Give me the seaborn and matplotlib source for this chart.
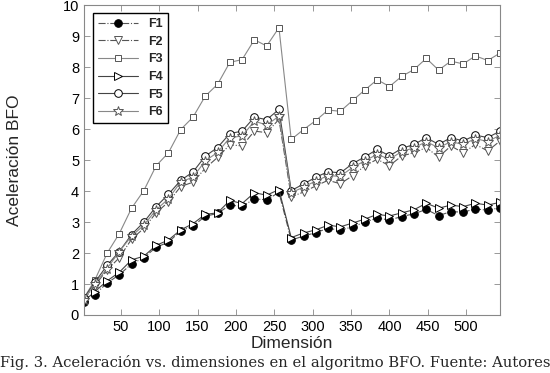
import pandas as pd
import seaborn as sns
import matplotlib.pyplot as plt

# Problem dimensions (x axis)
dims = [2] + list(range(16, 545, 16))

# Acceleration values
f1 = [0.41, 0.66, 1.03, 1.30, 1.65, 1.85, 2.19, 2.35, 2.72, 2.87, 3.19, 3.28, 3.55, 3.51, 3.75, 3.72, 3.96,
      2.42, 2.55, 2.66, 2.80, 2.74, 2.85, 3.00, 3.13, 3.07, 3.18, 3.27, 3.41, 3.21, 3.34, 3.32, 3.43, 3.38, 3.47]
f2 = [0.50, 0.95, 1.45, 1.85, 2.45, 2.80, 3.30, 3.65, 4.15, 4.29, 4.74, 5.09, 5.50, 5.46, 5.94, 5.89, 6.32,
      3.82, 3.97, 4.17, 4.35, 4.24, 4.50, 4.82, 5.03, 4.82, 5.14, 5.24, 5.41, 5.10, 5.46, 5.24, 5.51, 5.30, 5.62]
f3 = [0.55, 1.12, 1.99, 2.63, 3.45, 4.02, 4.82, 5.24, 5.99, 6.39, 7.07, 7.45, 8.16, 8.25, 8.89, 8.69, 9.28,
      5.67, 5.99, 6.28, 6.62, 6.58, 6.93, 7.27, 7.60, 7.38, 7.71, 7.93, 8.29, 7.91, 8.20, 8.11, 8.37, 8.22, 8.46]
f4 = [0.45, 0.75, 1.10, 1.38, 1.78, 1.90, 2.25, 2.42, 2.75, 2.95, 3.25, 3.30, 3.70, 3.60, 3.95, 3.87, 4.05,
      2.50, 2.65, 2.75, 2.90, 2.85, 2.97, 3.10, 3.25, 3.20, 3.30, 3.40, 3.61, 3.45, 3.55, 3.50, 3.61, 3.55, 3.64]
f5 = [0.55, 1.05, 1.60, 2.05, 2.60, 3.00, 3.50, 3.90, 4.35, 4.62, 5.13, 5.41, 5.86, 5.94, 6.39, 6.31, 6.64,
      4.02, 4.23, 4.45, 4.63, 4.59, 4.89, 5.11, 5.35, 5.14, 5.38, 5.51, 5.73, 5.51, 5.73, 5.62, 5.81, 5.73, 5.94]
f6 = [0.50, 1.00, 1.50, 2.05, 2.55, 2.90, 3.40, 3.75, 4.30, 4.45, 4.98, 5.25, 5.73, 5.78, 6.26, 6.14, 6.42,
      3.95, 4.13, 4.33, 4.50, 4.48, 4.77, 4.98, 5.19, 5.03, 5.28, 5.40, 5.60, 5.40, 5.60, 5.51, 5.70, 5.60, 5.81]

series = {"F1": f1, "F2": f2, "F3": f3, "F4": f4, "F5": f5, "F6": f6}

# line style, marker, line colour, marker face colour, marker size
styles = {
    "F1": ("-.", "o", "#555555", "black", 5.5),
    "F2": ("-.", "v", "#555555", "white", 5.5),
    "F3": ("-", "s", "#888888", "white", 5),
    "F4": ("-", ">", "#444444", "white", 5.5),
    "F5": ("-", "o", "#444444", "white", 5.5),
    "F6": ("-", "*", "#888888", "white", 7),
}


def main():
    df = pd.DataFrame({"Dimension": dims, **series})
    df = df.melt(id_vars="Dimension", var_name="Funcion", value_name="Aceleracion")

    sns.set_theme(style="ticks")
    plt.rcParams["font.family"] = ["Liberation Sans", "DejaVu Sans"]

    fig = plt.figure(figsize=(5.5, 3.73), dpi=100)
    ax = fig.add_axes([0.1527, 0.1555, 0.7564, 0.830])

    for name in series:
        ls, mk, col, face, ms = styles[name]
        edge = "black" if name in ("F1", "F4", "F5") else "#555555"
        sns.lineplot(data=df[df["Funcion"] == name], x="Dimension", y="Aceleracion",
                     ax=ax, color=col, linestyle=ls, linewidth=0.8, marker=mk,
                     markersize=ms, markerfacecolor=face, markeredgecolor=edge,
                     markeredgewidth=0.7, label=name, legend=False)

    ax.set_xlim(2, 544)
    ax.set_ylim(0, 10)
    ax.set_xticks(range(50, 501, 50))
    ax.set_yticks(range(0, 11))
    ax.tick_params(direction="in", top=True, right=True, length=4, width=0.6,
                   color="#888888", labelsize=10.5, labelcolor="black")
    for sp in ax.spines.values():
        sp.set_color("#888888")
        sp.set_linewidth(0.8)

    ax.set_xlabel("Dimensión", fontsize=12.5)
    ax.set_ylabel("Aceleración BFO", fontsize=12.5)
    ax.xaxis.set_label_coords(0.5, -0.068)
    ax.yaxis.set_label_coords(-0.148, 0.5)

    leg = ax.legend(loc="upper left", bbox_to_anchor=(0.022, 0.975), borderaxespad=0,
                    fontsize=9, handlelength=3.2, labelspacing=0.45, frameon=True,
                    fancybox=False, edgecolor="black", framealpha=1)
    leg.get_frame().set_linewidth(1.0)
    for t in leg.get_texts():
        t.set_fontweight("bold")

    fig.text(0.5, 0.028, "Fig. 3. Aceleración vs. dimensiones en el algoritmo BFO. Fuente: Autores",
             ha="center", va="center", family="DejaVu Serif", fontsize=10.6)

    fig.savefig("out.png", dpi=100)
    plt.close(fig)


if __name__ == "__main__":
    main()
